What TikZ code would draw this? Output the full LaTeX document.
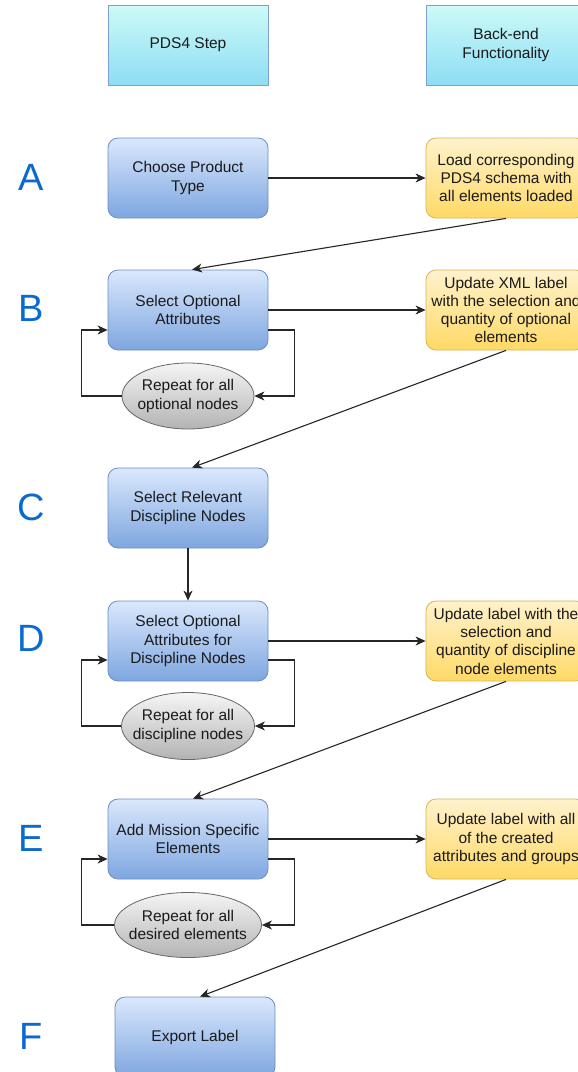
\documentclass[tikz,border=0pt]{standalone}
\usepackage{fontspec}
\setmainfont{Liberation Sans}
\usetikzlibrary{arrows.meta,shapes.geometric}
\definecolor{hdtop}{HTML}{CCFAF7}
\definecolor{hdbot}{HTML}{8EDDF5}
\definecolor{hdline}{HTML}{7F9FCF}
\definecolor{bltop}{HTML}{DAE8FC}
\definecolor{blbot}{HTML}{7EA6E0}
\definecolor{blline}{HTML}{6C8EBF}
\definecolor{yltop}{HTML}{FFF2CC}
\definecolor{ylbot}{HTML}{FFD966}
\definecolor{ylline}{HTML}{D6B656}
\definecolor{grtop}{HTML}{F5F5F5}
\definecolor{grbot}{HTML}{B3B3B3}
\definecolor{grline}{HTML}{666666}
\definecolor{letter}{HTML}{0A6AD0}
\definecolor{txt}{HTML}{1A1A1A}
\tikzset{
  base/.style={inner sep=0pt, align=center, text=txt,
    font=\fontsize{15.5}{18.3}\selectfont, line width=0.8pt},
  header/.style={base, draw=hdline, top color=hdtop, bottom color=hdbot,
    minimum width=160pt, minimum height=80pt},
  stepbox/.style={base, draw=blline, top color=bltop, bottom color=blbot,
    rounded corners=10pt, minimum width=160pt, minimum height=80pt},
  backbox/.style={base, draw=ylline, top color=yltop, bottom color=ylbot,
    rounded corners=10pt, minimum width=160pt, minimum height=80pt},
  repeatnode/.style={base, ellipse, draw=grline, top color=grtop, bottom color=grbot},
  repeattext/.style={base, label distance=0pt},
  letterlbl/.style={text=letter, font=\fontsize{38}{38}\selectfont, inner sep=0pt},
  conn/.style={line width=1.1pt, draw=black!85, -{Stealth[length=10pt,width=9pt,inset=3pt]}},
}
\begin{document}
\begin{tikzpicture}[x=1pt,y=-1pt]
\clip (0,0) rectangle (578,1072);
\fill[white] (0,0) rectangle (578,1072);
% headers
\node[header] (h1) at (188,45) {PDS4 Step};
\node[header] (h2) at (506,45) {Back-end\\Functionality};
% letters
\node[letterlbl] (lA) at (31,177) {A};
\node[letterlbl] (lB) at (31,308) {B};
\node[letterlbl] (lC) at (31,507) {C};
\node[letterlbl] (lD) at (31,638) {D};
\node[letterlbl] (lE) at (31,838) {E};
\node[letterlbl] (lF) at (31,1036) {F};
% steps
\node[stepbox] (A) at (188,178) {Choose Product\\Type};
\node[stepbox] (B) at (188,310) {Select Optional\\Attributes};
\node[stepbox] (C) at (188,508) {Select Relevant\\Discipline Nodes};
\node[stepbox] (D) at (188,641) {Select Optional\\Attributes for\\Discipline Nodes};
\node[stepbox] (E) at (188,839) {Add Mission Specific\\Elements};
\node[stepbox] (F) at (195,1037) {Export Label};
% back-end
\node[backbox] (YA) at (506,178) {Load corresponding\\PDS4 schema with\\all elements loaded};
\node[backbox] (YB) at (506,310) {Update XML label\\with the selection and\\quantity of optional\\elements};
\node[backbox] (YD) at (506,641) {Update label with the\\selection and\\quantity of discipline\\node elements};
\node[backbox] (YE) at (506,839) {Update label with all\\of the created\\attributes and groups};
% repeat ellipses
\node[repeatnode, minimum width=132pt, minimum height=66pt,
  label={[repeattext]center:Repeat for all\\optional nodes}] (RB) at (188,396) {};
\node[repeatnode, minimum width=133pt, minimum height=67pt,
  label={[repeattext]center:Repeat for all\\discipline nodes}] (RD) at (188,726) {};
\node[repeatnode, minimum width=147pt, minimum height=65pt,
  label={[repeattext]center:Repeat for all\\desired elements}] (RE) at (188,925) {};
% connectors
\draw[conn] (A.east) -- (YA.west);
\draw[conn] (YA.south) -- ([xshift=4pt]B.north);
\draw[conn] (B.east) -- (YB.west);
\draw[conn] ([yshift=-20pt]B.east) -- ++(26,0) |- (RB.east);
\draw[conn] (RB.west) -- ++(-40,0) |- ([yshift=-20pt]B.west);
\draw[conn] (YB.south) -- ([xshift=4pt]C.north);
\draw[conn] (C.south) -- (D.north);
\draw[conn] (D.east) -- (YD.west);
\draw[conn] ([yshift=-19pt]D.east) -- ++(26,0) |- (RD.east);
\draw[conn] (RD.west) -- ++(-40,0) |- ([yshift=-19pt]D.west);
\draw[conn] (YD.south) -- ([xshift=5pt]E.north);
\draw[conn] (E.east) -- (YE.west);
\draw[conn] ([yshift=-20pt]E.east) -- ++(26,0) |- (RE.east);
\draw[conn] (RE.west) -- ++(-33,0) |- ([yshift=-20pt]E.west);
\draw[conn] (YE.south) -- ([xshift=5pt]F.north);
\end{tikzpicture}
\end{document}
